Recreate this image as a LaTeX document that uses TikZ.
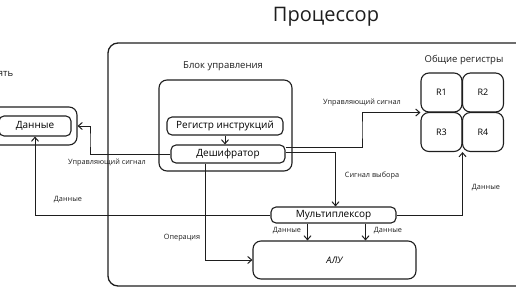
\documentclass[tikz,border=0pt]{standalone}
\usepackage{fontspec}
\setmainfont{Open Sans}
\definecolor{inkcol}{HTML}{1e1e1e}
\usetikzlibrary{arrows.meta}

\begin{document}
\begin{tikzpicture}[x=1pt, y=-1pt,
  box/.style={draw=inkcol, line width=1.1pt, rounded corners=5pt, inner sep=0pt, font=\fontsize{10}{12}\selectfont},
  regbox/.style={box, rounded corners=8pt, minimum width=41pt, minimum height=39pt, font=\fontsize{9}{11}\selectfont},
  conn/.style={draw=inkcol, line width=1pt, -{Straight Barb[length=4pt, width=7pt]}},
  lbl/.style={inkcol, font=\fontsize{7.3}{9}\selectfont},
  head/.style={inkcol, font=\fontsize{9.5}{11}\selectfont}]

\useasboundingbox (0,0) rectangle (516,290);

% === Title and processor frame ===
\node[inkcol, font=\fontsize{20}{24}\selectfont] (title) at (326,17) {Процессор};
\draw[inkcol, line width=1.3pt, rounded corners=10pt] (108,43) rectangle (540,286);

% === LEFT: memory ===
\node[head] (memlabel) at (-4,73) {Память};
\node[box, rounded corners=8pt, minimum width=88pt, minimum height=38pt] (memory) at (33,126) {};
\node[box, minimum width=72pt, minimum height=20pt] (memdata) at (35,126) {Данные};

% === Control unit ===
\node[head] (ctrllabel) at (223,66) {Блок управления};
\node[box, rounded corners=8pt, minimum width=133pt, minimum height=91pt] (ctrl) at (225.5,125.5) {};
\node[box, minimum width=116pt, minimum height=18pt] (ireg) at (225,126) {Регистр инструкций};
\node[box, minimum width=114pt, minimum height=18pt] (decoder) at (228,154) {Дешифратор};

% === Registers ===
\node[head] (reglabel) at (464,60) {Общие регистры};
\node[regbox] (R1) at (441.5,92.5) {R1};
\node[regbox] (R2) at (483,92.5) {R2};
\node[regbox] (R3) at (441.5,132) {R3};
\node[regbox] (R4) at (483,132) {R4};

% === Multiplexer and ALU ===
\node[box, minimum width=125pt, minimum height=16pt] (mux) at (333.5,215) {Мультиплексор};
\node[box, rounded corners=8pt, minimum width=163pt, minimum height=38pt,
  font=\itshape\fontsize{9}{11}\selectfont] (alu) at (334.5,260) {АЛУ};

% === Connectors ===
\coordinate (membend) at (90,140);
\coordinate (regbend) at (362,130);

\draw[conn] (ireg.south) -- (ireg.south |- decoder.north);

\draw[conn] (decoder.west) -| (membend) |- (memory.east);
\node[lbl] (ctlmemlbl) at (107,163) {Управляющий сигнал};

\draw[conn] (mux.west) -| (memdata.south);
\node[lbl] (datamemlbl) at (68,200) {Данные};

\draw[conn] ([yshift=7pt]decoder.east) -| (regbend) |- (R1.south west);
\node[lbl] (ctlreglbl) at (362,103) {Управляющий сигнал};

\draw[conn] ([yshift=2pt]decoder.east) -| ([xshift=2pt]mux.north);
\node[lbl] (sellbl) at (372,176) {Сигнал выбора};

\draw[conn] (mux.east) -| (R3.south east);
\node[lbl] (datareglbl) at (486,188) {Данные};

\draw[conn] ([xshift=-26pt]mux.south) -- ([xshift=-26pt]mux.south |- alu.north);
\node[lbl] (dataalulbl) at (287,231) {Данные};
\draw[conn] ([xshift=32pt]mux.south) -- ([xshift=32pt]mux.south |- alu.north);
\node[lbl] (dataalurlbl) at (388,231) {Данные};

\draw[conn] ([xshift=-23pt]decoder.south) |- (alu.west);
\node[lbl] (oplbl) at (182,238) {Операция};

\end{tikzpicture}
\end{document}
